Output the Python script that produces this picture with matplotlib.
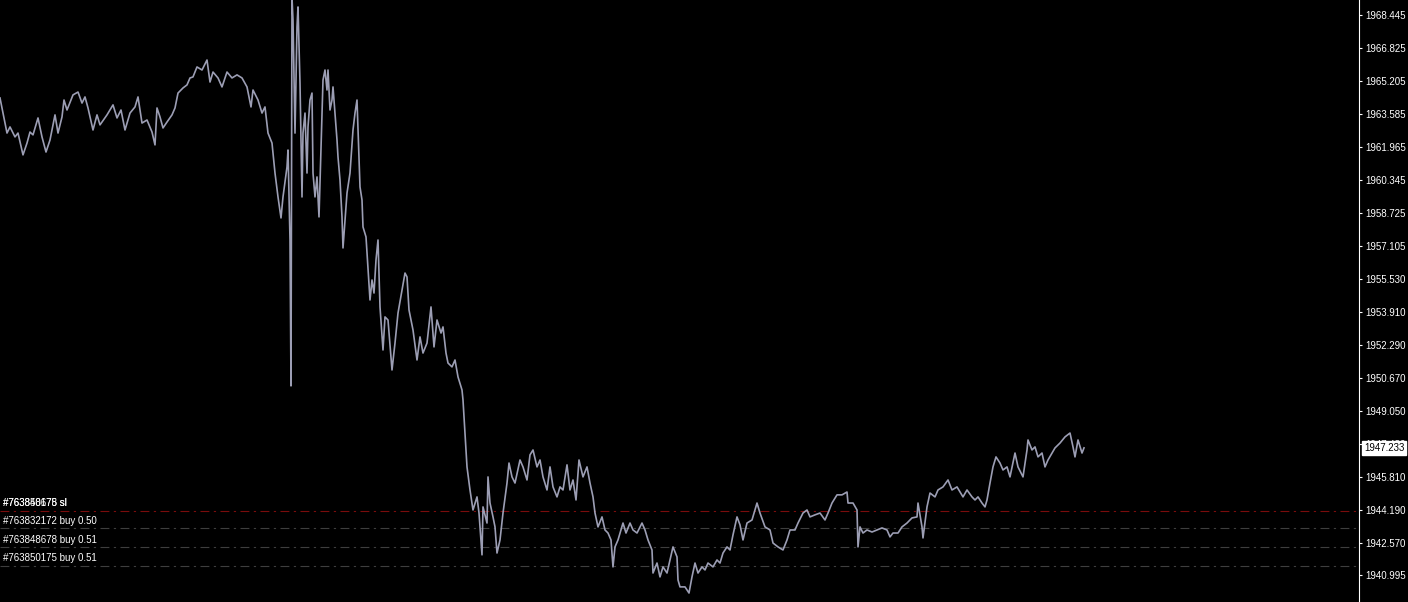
import matplotlib
matplotlib.use("Agg")
import matplotlib.pyplot as plt

plt.rcParams["font.family"] = ["Liberation Sans", "DejaVu Sans"]

# bar index (chart time) and close prices
bars = [0, 7, 10, 15, 18, 23, 27, 30, 33, 38, 42, 46, 50, 55, 58, 62, 64, 67, 73, 78,
        82, 85, 88, 93, 97, 100, 107, 113, 117, 121, 125, 130, 135, 138, 142, 147, 152, 155, 157, 160,
        163, 167, 172, 175, 178, 183, 187, 190, 193, 197, 202, 207, 210, 213, 218, 222, 227, 232, 237, 242,
        247, 251, 253, 258, 262, 265, 268, 272, 275, 278, 281, 283, 287, 288, 290, 291, 292, 293, 295, 297,
        298, 300, 302, 303, 305, 307, 308, 310, 312, 313, 315, 317, 319, 322, 323, 325, 327, 328, 330, 332,
        333, 337, 338, 340, 342, 343, 347, 350, 353, 355, 357, 360, 362, 363, 366, 367, 370, 372, 374, 376,
        378, 380, 383, 385, 388, 392, 395, 398, 402, 405, 407, 409, 413, 417, 420, 423, 427, 431, 434, 437,
        441, 443, 446, 448, 452, 455, 458, 462, 463, 465, 467, 470, 473, 477, 479, 482, 483, 487, 488, 490,
        493, 495, 497, 500, 503, 507, 509, 512, 515, 520, 523, 527, 530, 533, 537, 540, 543, 547, 550, 553,
        557, 560, 563, 567, 570, 573, 576, 579, 583, 587, 590, 593, 595, 598, 602, 605, 608, 611, 613, 615,
        618, 623, 626, 630, 633, 637, 642, 645, 648, 652, 653, 657, 660, 663, 667, 670, 673, 677, 678, 680,
        685, 689, 692, 695, 698, 702, 705, 708, 713, 717, 720, 723, 727, 730, 733, 737, 740, 743, 747, 752,
        755, 757, 760, 765, 770, 773, 778, 783, 787, 790, 795, 798, 803, 807, 810, 815, 820, 825, 828, 832,
        837, 842, 847, 848, 853, 857, 858, 860, 863, 867, 872, 877, 882, 887, 890, 893, 898, 902, 907, 912,
        917, 918, 922, 923, 927, 930, 935, 938, 943, 948, 952, 957, 963, 967, 972, 975, 978, 982, 985, 987,
        990, 993, 996, 1000, 1003, 1007, 1010, 1015, 1018, 1023, 1027, 1028, 1032, 1035, 1038, 1042, 1045, 1048, 1052, 1055,
        1060, 1065, 1070, 1073, 1075, 1078, 1082, 1084]

close = [1964.38, 1962.66, 1962.96, 1962.47, 1962.66, 1961.59, 1962.17, 1962.71, 1962.57, 1963.40,
         1962.47, 1961.73, 1962.32, 1963.55, 1962.66, 1963.45, 1964.28, 1963.79, 1964.53, 1964.67,
         1964.13, 1964.43, 1963.89, 1962.81, 1963.55, 1963.06, 1963.55, 1964.04, 1963.40, 1963.79,
         1962.81, 1963.64, 1963.94, 1964.43, 1963.15, 1963.30, 1962.71, 1962.08, 1963.89, 1963.45,
         1962.91, 1963.20, 1963.55, 1963.89, 1964.62, 1964.87, 1965.02, 1965.36, 1965.41, 1965.90,
         1965.75, 1966.24, 1965.16, 1965.65, 1965.36, 1964.92, 1965.65, 1965.36, 1965.51, 1965.36,
         1964.92, 1963.94, 1964.77, 1964.28, 1963.64, 1963.94, 1962.66, 1962.17, 1960.70, 1959.53,
         1958.50, 1959.53, 1961.00, 1961.83, 1957.42, 1950.27, 1969.30, 1968.20, 1962.66, 1967.86,
         1968.84, 1965.11, 1959.53, 1962.66, 1963.64, 1960.70, 1962.96, 1964.28, 1964.62, 1960.70,
         1959.53, 1960.51, 1958.55, 1963.64, 1965.26, 1965.75, 1964.77, 1965.75, 1963.79, 1964.28,
         1964.92, 1962.32, 1961.49, 1960.36, 1958.55, 1957.03, 1959.72, 1960.70, 1962.81, 1963.64,
         1964.28, 1960.02, 1959.38, 1958.06, 1957.57, 1956.78, 1954.48, 1955.46, 1954.82, 1956.44,
         1957.42, 1954.14, 1952.03, 1953.65, 1953.50, 1951.05, 1952.37, 1953.84, 1954.97, 1955.80,
         1955.61, 1953.99, 1953.01, 1951.54, 1952.67, 1951.88, 1952.37, 1954.14, 1952.18, 1953.50,
         1952.86, 1953.16, 1951.88, 1951.39, 1951.20, 1951.54, 1950.71, 1950.07, 1949.58, 1947.96,
         1946.30, 1945.17, 1944.19, 1944.83, 1944.04, 1941.99, 1944.34, 1943.55, 1945.81, 1944.53,
         1943.85, 1943.36, 1942.08, 1942.72, 1944.04, 1945.51, 1946.49, 1945.81, 1945.51, 1946.64,
         1946.30, 1945.66, 1946.89, 1947.13, 1946.30, 1946.64, 1945.81, 1945.17, 1946.30, 1945.32,
         1944.83, 1945.32, 1945.17, 1946.40, 1945.17, 1945.66, 1944.68, 1946.64, 1945.81, 1946.30,
         1945.51, 1944.83, 1944.04, 1943.36, 1943.85, 1943.21, 1943.06, 1942.72, 1941.40, 1942.38,
         1942.72, 1943.55, 1943.06, 1943.55, 1943.21, 1943.06, 1943.55, 1943.21, 1942.72, 1942.23,
         1941.10, 1941.59, 1940.91, 1941.40, 1941.10, 1941.74, 1942.38, 1941.89, 1940.76, 1940.42,
         1940.42, 1940.12, 1940.91, 1941.59, 1941.10, 1941.40, 1941.25, 1941.59, 1941.40, 1941.74,
         1941.59, 1942.08, 1942.38, 1942.23, 1942.97, 1943.85, 1943.46, 1942.72, 1943.55, 1943.70,
         1944.19, 1944.53, 1944.04, 1943.36, 1943.21, 1942.57, 1942.38, 1942.23, 1942.72, 1943.21,
         1943.21, 1943.55, 1944.04, 1944.19, 1943.85, 1943.95, 1944.04, 1943.70, 1944.04, 1944.53,
         1944.93, 1944.93, 1945.07, 1944.53, 1944.53, 1944.19, 1942.38, 1943.36, 1943.06, 1943.21,
         1943.11, 1943.21, 1943.31, 1943.21, 1942.87, 1943.06, 1943.06, 1943.36, 1943.55, 1943.80,
         1943.85, 1944.53, 1943.36, 1942.82, 1944.34, 1945.02, 1944.83, 1945.17, 1945.32, 1945.66,
         1945.17, 1945.32, 1944.83, 1945.17, 1944.83, 1944.68, 1944.83, 1944.53, 1944.34, 1944.68,
         1945.51, 1946.30, 1946.79, 1946.49, 1946.15, 1946.30, 1945.81, 1946.98, 1946.30, 1945.81,
         1947.13, 1947.62, 1947.13, 1947.28, 1946.79, 1946.98, 1946.30, 1946.64, 1946.98, 1947.23,
         1947.47, 1947.77, 1947.96, 1947.28, 1946.79, 1947.62, 1946.98, 1947.233]

# price scale labels on the right
tick_prices = [1968.445, 1966.825, 1965.205, 1963.585, 1961.965, 1960.345, 1958.725, 1957.105,
               1955.530, 1953.910, 1952.290, 1950.670, 1949.050, 1947.430, 1945.810, 1944.190,
               1942.570, 1940.995]
last_price = 1947.233

# order lines
sl_price = 1944.14
sl_labels = ["#763848678 sl", "#763850175 sl"]
order_prices = [1943.29, 1942.36, 1941.45]
order_labels = ["#763832172 buy 0.50", "#763848678 buy 0.51", "#763850175 buy 0.51"]

fig = plt.figure(figsize=(14.08, 6.02), dpi=100, facecolor="black")
ax = fig.add_axes([0, 0, 1359 / 1408, 1])
ax.set_facecolor("black")

ax.plot(bars, close, color="#9c9eb4", lw=1.2, zorder=3)

ax.set_xlim(0, 1359)
ax.set_ylim(1939.68, 1969.18)

# order lines with labels
dash = (0, (8, 4, 2, 4))
ax.axhline(sl_price, color="#7a0c0c", lw=0.8, linestyle=dash, zorder=2)
for lab in sl_labels:
    ax.annotate(lab, (0, sl_price), xytext=(2.5, 2), textcoords="offset points",
                color="white", fontsize=7, va="bottom", ha="left")
for p, lab in zip(order_prices, order_labels):
    ax.axhline(p, color="#3e3e3e", lw=0.8, linestyle=dash, zorder=2)
    ax.annotate(lab, (0, p), xytext=(2.5, 2), textcoords="offset points",
                color="white", fontsize=7, va="bottom", ha="left")

# right price axis
ax.yaxis.tick_right()
ax.set_yticks(tick_prices)
ax.set_yticklabels([f"{t:.3f}" for t in tick_prices])
ax.tick_params(axis="y", colors="white", labelcolor="white", labelsize=7,
               length=2.5, width=0.8, pad=2, direction="out")
ax.set_xticks([])
for side in ["left", "top", "bottom"]:
    ax.spines[side].set_visible(False)
ax.spines["right"].set_color("white")
ax.spines["right"].set_linewidth(0.8)

# last price tag
ax.annotate(f"{last_price:.3f}", (1, last_price), xycoords=("axes fraction", "data"),
            xytext=(3.6, 0), textcoords="offset points", color="black", fontsize=7,
            va="center", ha="left", annotation_clip=False, zorder=10,
            bbox=dict(boxstyle="square,pad=0.2", fc="white", ec="white"))

fig.savefig("out.png", dpi=100, facecolor="black")
